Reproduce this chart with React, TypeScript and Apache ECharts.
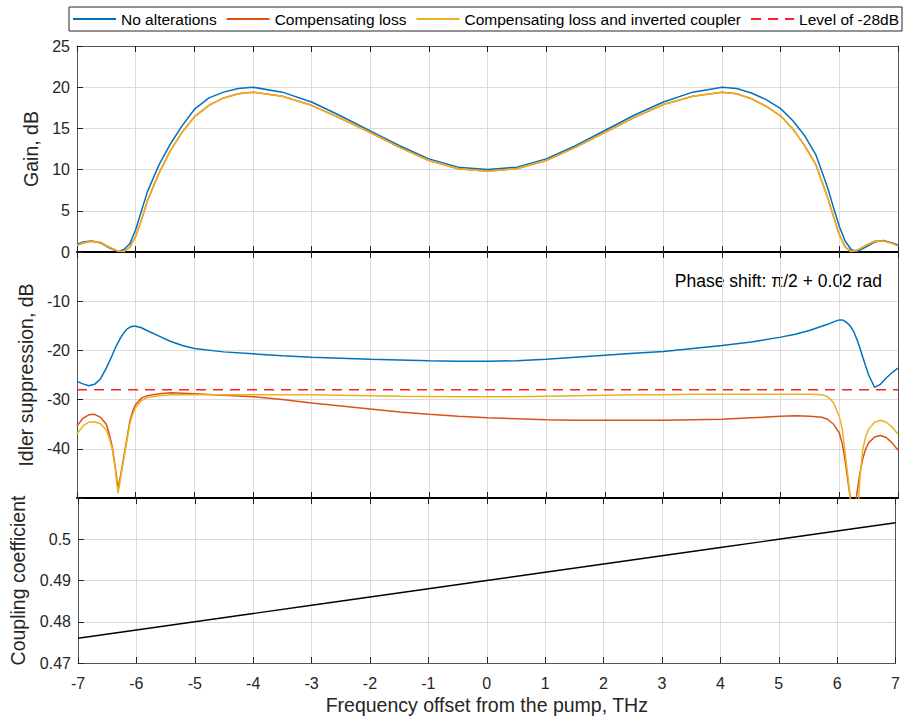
import React, { useEffect, useRef } from "react";
import * as echarts from "echarts";

const FONT = "Liberation Sans, Arial, Helvetica, sans-serif";

// ---------- data ----------
const gainX = [-7, -6.9, -6.75, -6.6, -6.45, -6.3, -6.2, -6.1, -6.0, -5.9, -5.8, -5.6, -5.4, -5.2, -5.0, -4.75, -4.5, -4.25, -4, -3.5, -3, -2.5, -2, -1.5, -1, -0.5, 0, 0.5, 1, 1.5, 2, 2.5, 3, 3.5, 4, 4.25, 4.5, 4.75, 5, 5.2, 5.4, 5.6, 5.8, 5.9, 6.0, 6.1, 6.2, 6.3, 6.45, 6.6, 6.75, 6.9, 7];
const gainNoAlt = [0.95, 1.2, 1.35, 1.1, 0.5, 0.05, 0.3, 1.0, 2.7, 5.0, 7.3, 10.6, 13.2, 15.4, 17.3, 18.7, 19.4, 19.85, 20.0, 19.4, 18.2, 16.5, 14.7, 12.9, 11.3, 10.3, 10.0, 10.3, 11.3, 12.9, 14.75, 16.6, 18.2, 19.4, 20.0, 19.85, 19.3, 18.5, 17.4, 16.0, 14.2, 11.8, 7.8, 5.4, 3.1, 1.3, 0.3, 0.05, 0.6, 1.2, 1.4, 1.1, 0.85];
const gainLoss = [0.8, 1.1, 1.3, 1.15, 0.6, 0.1, 0.05, 0.6, 1.9, 3.9, 6.2, 9.6, 12.4, 14.6, 16.4, 17.8, 18.7, 19.2, 19.4, 18.9, 17.8, 16.2, 14.5, 12.7, 11.1, 10.1, 9.8, 10.1, 11.1, 12.7, 14.5, 16.3, 17.9, 18.9, 19.4, 19.2, 18.6, 17.7, 16.5, 15.0, 13.0, 10.6, 6.6, 4.3, 2.1, 0.6, 0.05, 0.2, 0.8, 1.3, 1.35, 1.05, 0.75];
const gainInverted = [0.8, 1.1, 1.3, 1.15, 0.6, 0.1, 0.05, 0.6, 1.9, 3.9, 6.2, 9.6, 12.4, 14.6, 16.4, 17.8, 18.7, 19.2, 19.4, 18.9, 17.8, 16.2, 14.5, 12.7, 11.1, 10.1, 9.8, 10.1, 11.1, 12.7, 14.5, 16.3, 17.9, 18.9, 19.4, 19.2, 18.6, 17.7, 16.5, 15.0, 13.0, 10.6, 6.6, 4.3, 2.1, 0.6, 0.05, 0.2, 0.8, 1.3, 1.35, 1.05, 0.75];

const idlerX = [-7, -6.9, -6.8, -6.7, -6.6, -6.5, -6.45, -6.4, -6.35, -6.3, -6.25, -6.2, -6.15, -6.1, -6.05, -6.0, -5.9, -5.8, -5.6, -5.4, -5.2, -5, -4.5, -4, -3.5, -3, -2.5, -2, -1.5, -1, -0.5, 0, 0.5, 1, 1.5, 2, 2.5, 3, 3.5, 4, 4.5, 5, 5.25, 5.5, 5.7, 5.8, 5.9, 6.0, 6.05, 6.1, 6.15, 6.2, 6.25, 6.3, 6.35, 6.4, 6.45, 6.5, 6.6, 6.7, 6.8, 6.9, 7];
const idlerNoAlt = [-26.3, -26.8, -27.2, -26.9, -25.8, -23.6, -22.3, -21.0, -19.6, -18.4, -17.3, -16.4, -15.7, -15.3, -15.1, -15.1, -15.4, -16.0, -17.1, -18.2, -19.0, -19.6, -20.3, -20.7, -21.1, -21.4, -21.6, -21.8, -21.95, -22.1, -22.2, -22.2, -22.1, -21.8, -21.4, -21.0, -20.6, -20.2, -19.6, -19.0, -18.3, -17.3, -16.7, -15.9, -15.1, -14.7, -14.2, -13.8, -13.8, -14.1, -14.6, -15.3, -16.3, -17.8, -19.5, -21.4, -23.2, -25.0, -27.5, -26.9, -25.6, -24.5, -23.6];
const idlerLoss = [-35.4, -33.8, -33.1, -33.0, -33.6, -35.0, -37.0, -39.5, -43.5, -48.0, -45.0, -41.5, -38.0, -34.5, -32.3, -31.0, -29.7, -29.2, -28.8, -28.6, -28.7, -28.8, -29.1, -29.4, -30.0, -30.7, -31.3, -31.9, -32.5, -33.0, -33.4, -33.7, -33.9, -34.1, -34.2, -34.2, -34.2, -34.2, -34.1, -34.0, -33.7, -33.4, -33.3, -33.4, -33.6, -34.0, -35.0, -36.8, -39.0, -42.5, -47.0, -51.0, -53.0, -49.0, -45.0, -42.0, -40.0, -38.8, -37.6, -37.3, -37.7, -38.8, -40.3];
const idlerInverted = [-37.0, -35.4, -34.6, -34.5, -34.9, -36.2, -37.8, -40.0, -44.0, -49.0, -45.5, -42.0, -38.5, -35.0, -33.0, -31.6, -30.2, -29.6, -29.2, -29.0, -29.0, -29.0, -29.0, -29.0, -29.0, -29.0, -29.1, -29.2, -29.3, -29.35, -29.4, -29.4, -29.4, -29.3, -29.2, -29.1, -29.0, -29.0, -28.9, -28.9, -28.9, -28.9, -28.9, -28.9, -29.0, -29.4, -30.6, -33.5, -36.0, -41.0, -46.0, -52.0, -60.0, -56.0, -46.0, -40.0, -37.5, -36.0, -34.6, -34.2, -34.6, -35.6, -37.0];
const levelX = [-7, 7];
const levelY = [-28, -28];

const couplingX = [-7, -6, -5, -4, -3, -2, -1, 0, 1, 2, 3, 4, 5, 6, 7];
const couplingY = [0.476, 0.478, 0.48, 0.482, 0.484, 0.486, 0.488, 0.49, 0.492, 0.494, 0.496, 0.498, 0.5, 0.502, 0.504];

const legendNames = ["No alterations", "Compensating loss", "Compensating loss and inverted coupler", "Level of -28dB"];
const phaseText = "Phase shift: \u03c0/2 + 0.02 rad";
const xName = "Frequency offset from the pump, THz";
const yNames = ["Gain, dB", "Idler suppression, dB", "Coupling coefficient"];

const BLUE = "#0072BD";
const RED = "#D95319";
const YELLOW = "#EDB120";

const pairs = (xs: number[], ys: number[]) => xs.map((x, i) => [x, ys[i]]);

export default function App() {
  const ref = useRef<HTMLDivElement>(null);
  useEffect(() => {
    if (!ref.current) return;
    const chart = echarts.init(ref.current, undefined, { renderer: "svg" });
    const gridLine = { show: true, lineStyle: { color: "#dcdcdc", width: 1 } };
    const axisGray = { show: true, onZero: false, lineStyle: { color: "#555", width: 1 } };
    const axisBlack = { show: true, onZero: false, lineStyle: { color: "#000", width: 2 } };
    const noLine = { show: false, onZero: false };
    const tickIn = { show: true, inside: true, length: 6, lineStyle: { color: "#222", width: 1 } };
    const lbl = { color: "#262626", fontSize: 16, fontFamily: FONT };
    const nameStyle = { color: "#262626", fontSize: 19.5, fontFamily: FONT };

    const grids = [
      { left: 77, right: 5, top: 46, height: 206 },
      { left: 77, right: 5, top: 252, height: 246 },
      { left: 77, right: 5, top: 498, height: 165 },
    ];

    const xBase = { type: "value", min: -7, max: 7, interval: 1 };
    const xAxis: any[] = [
      { ...xBase, gridIndex: 0, position: "bottom", axisLine: axisBlack, axisTick: tickIn, axisLabel: { show: false }, splitLine: gridLine },
      { ...xBase, gridIndex: 0, position: "top", axisLine: axisGray, axisTick: tickIn, axisLabel: { show: false }, splitLine: { show: false } },
      { ...xBase, gridIndex: 1, position: "bottom", axisLine: axisBlack, axisTick: tickIn, axisLabel: { show: false }, splitLine: gridLine },
      { ...xBase, gridIndex: 1, position: "top", axisLine: noLine, axisTick: tickIn, axisLabel: { show: false }, splitLine: { show: false } },
      {
        ...xBase, gridIndex: 2, position: "bottom", axisLine: axisGray, axisTick: tickIn,
        axisLabel: { ...lbl, margin: 12 }, splitLine: gridLine,
        name: xName, nameLocation: "middle", nameGap: 32, nameTextStyle: nameStyle,
      },
      { ...xBase, gridIndex: 2, position: "top", axisLine: noLine, axisTick: tickIn, axisLabel: { show: false }, splitLine: { show: false } },
    ];

    const rightAxis = (gi: number, min: number, max: number, interval: number) => ({
      type: "value", gridIndex: gi, position: "right", min, max, interval,
      axisLine: axisGray, axisTick: { show: false }, axisLabel: { show: false }, splitLine: { show: false },
    });

    const yAxis: any[] = [
      {
        type: "value", gridIndex: 0, position: "left", min: 0, max: 25, interval: 5,
        axisLine: axisGray, axisTick: tickIn, axisLabel: { ...lbl, margin: 7 }, splitLine: gridLine,
        name: yNames[0], nameLocation: "middle", nameGap: 33, nameTextStyle: nameStyle,
      },
      rightAxis(0, 0, 25, 5),
      {
        type: "value", gridIndex: 1, position: "left", min: -50, max: 0, interval: 10,
        axisLine: axisGray, axisTick: tickIn,
        axisLabel: { ...lbl, margin: 7, formatter: (v: number) => (v === 0 || v === -50 ? "" : String(v)) },
        splitLine: gridLine,
        name: yNames[1], nameLocation: "middle", nameGap: 25, nameTextStyle: nameStyle,
      },
      rightAxis(1, -50, 0, 10),
      {
        type: "value", gridIndex: 2, position: "left", min: 0.47, max: 0.51, interval: 0.01,
        axisLine: axisGray, axisTick: tickIn,
        axisLabel: { ...lbl, margin: 7, formatter: (v: number) => (Math.abs(v - 0.51) < 1e-6 ? "" : String(+v.toFixed(2))) },
        splitLine: gridLine,
        name: yNames[2], nameLocation: "middle", nameGap: 50, nameTextStyle: nameStyle,
      },
      rightAxis(2, 0.47, 0.51, 0.01),
    ];

    const line = (name: string, xs: number[], ys: number[], color: string, xi: number, yi: number, extra: any = {}) => ({
      type: "line", name, data: pairs(xs, ys), xAxisIndex: xi, yAxisIndex: yi,
      symbol: "none", showSymbol: false, clip: true, smooth: false,
      lineStyle: { color, width: 1.5, ...extra }, itemStyle: { color },
      emphasis: { disabled: true },
    });

    const series: any[] = [
      line(legendNames[0], gainX, gainNoAlt, BLUE, 0, 0),
      line(legendNames[1], gainX, gainLoss, RED, 0, 0),
      line(legendNames[2], gainX, gainInverted, YELLOW, 0, 0),
      line(legendNames[0], idlerX, idlerNoAlt, BLUE, 2, 2),
      line(legendNames[1], idlerX, idlerLoss, RED, 2, 2),
      line(legendNames[2], idlerX, idlerInverted, YELLOW, 2, 2),
      line(legendNames[3], levelX, levelY, "#FF2020", 2, 2, { type: [10, 7], width: 1.3 }),
      line("Coupling", couplingX, couplingY, "#000000", 4, 4, { width: 1.3 }),
    ];

    chart.setOption({
      animation: false,
      backgroundColor: "#ffffff",
      textStyle: { fontFamily: FONT },
      grid: grids,
      xAxis,
      yAxis,
      legend: {
        data: legendNames,
        left: 69,
        top: 7,
        width: 834,
        padding: [4, 3, 4, 3],
        itemWidth: 43,
        itemHeight: 14,
        itemGap: 9,
        itemStyle: { opacity: 0 },
        borderColor: "#262626",
        borderWidth: 1,
        backgroundColor: "#ffffff",
        textStyle: { color: "#000", fontSize: 15.5, fontFamily: FONT },
        selectedMode: false,
      },
      graphic: [
        {
          type: "text",
          right: 21,
          top: 272,
          style: { text: phaseText, font: `17.5px ${FONT}`, fill: "#000" },
        },
      ],
      series,
    });
    return () => chart.dispose();
  }, []);
  return <div ref={ref} style={{ position: "fixed", left: 0, top: 0, width: 903, height: 719, background: "#fff" }} />;
}
